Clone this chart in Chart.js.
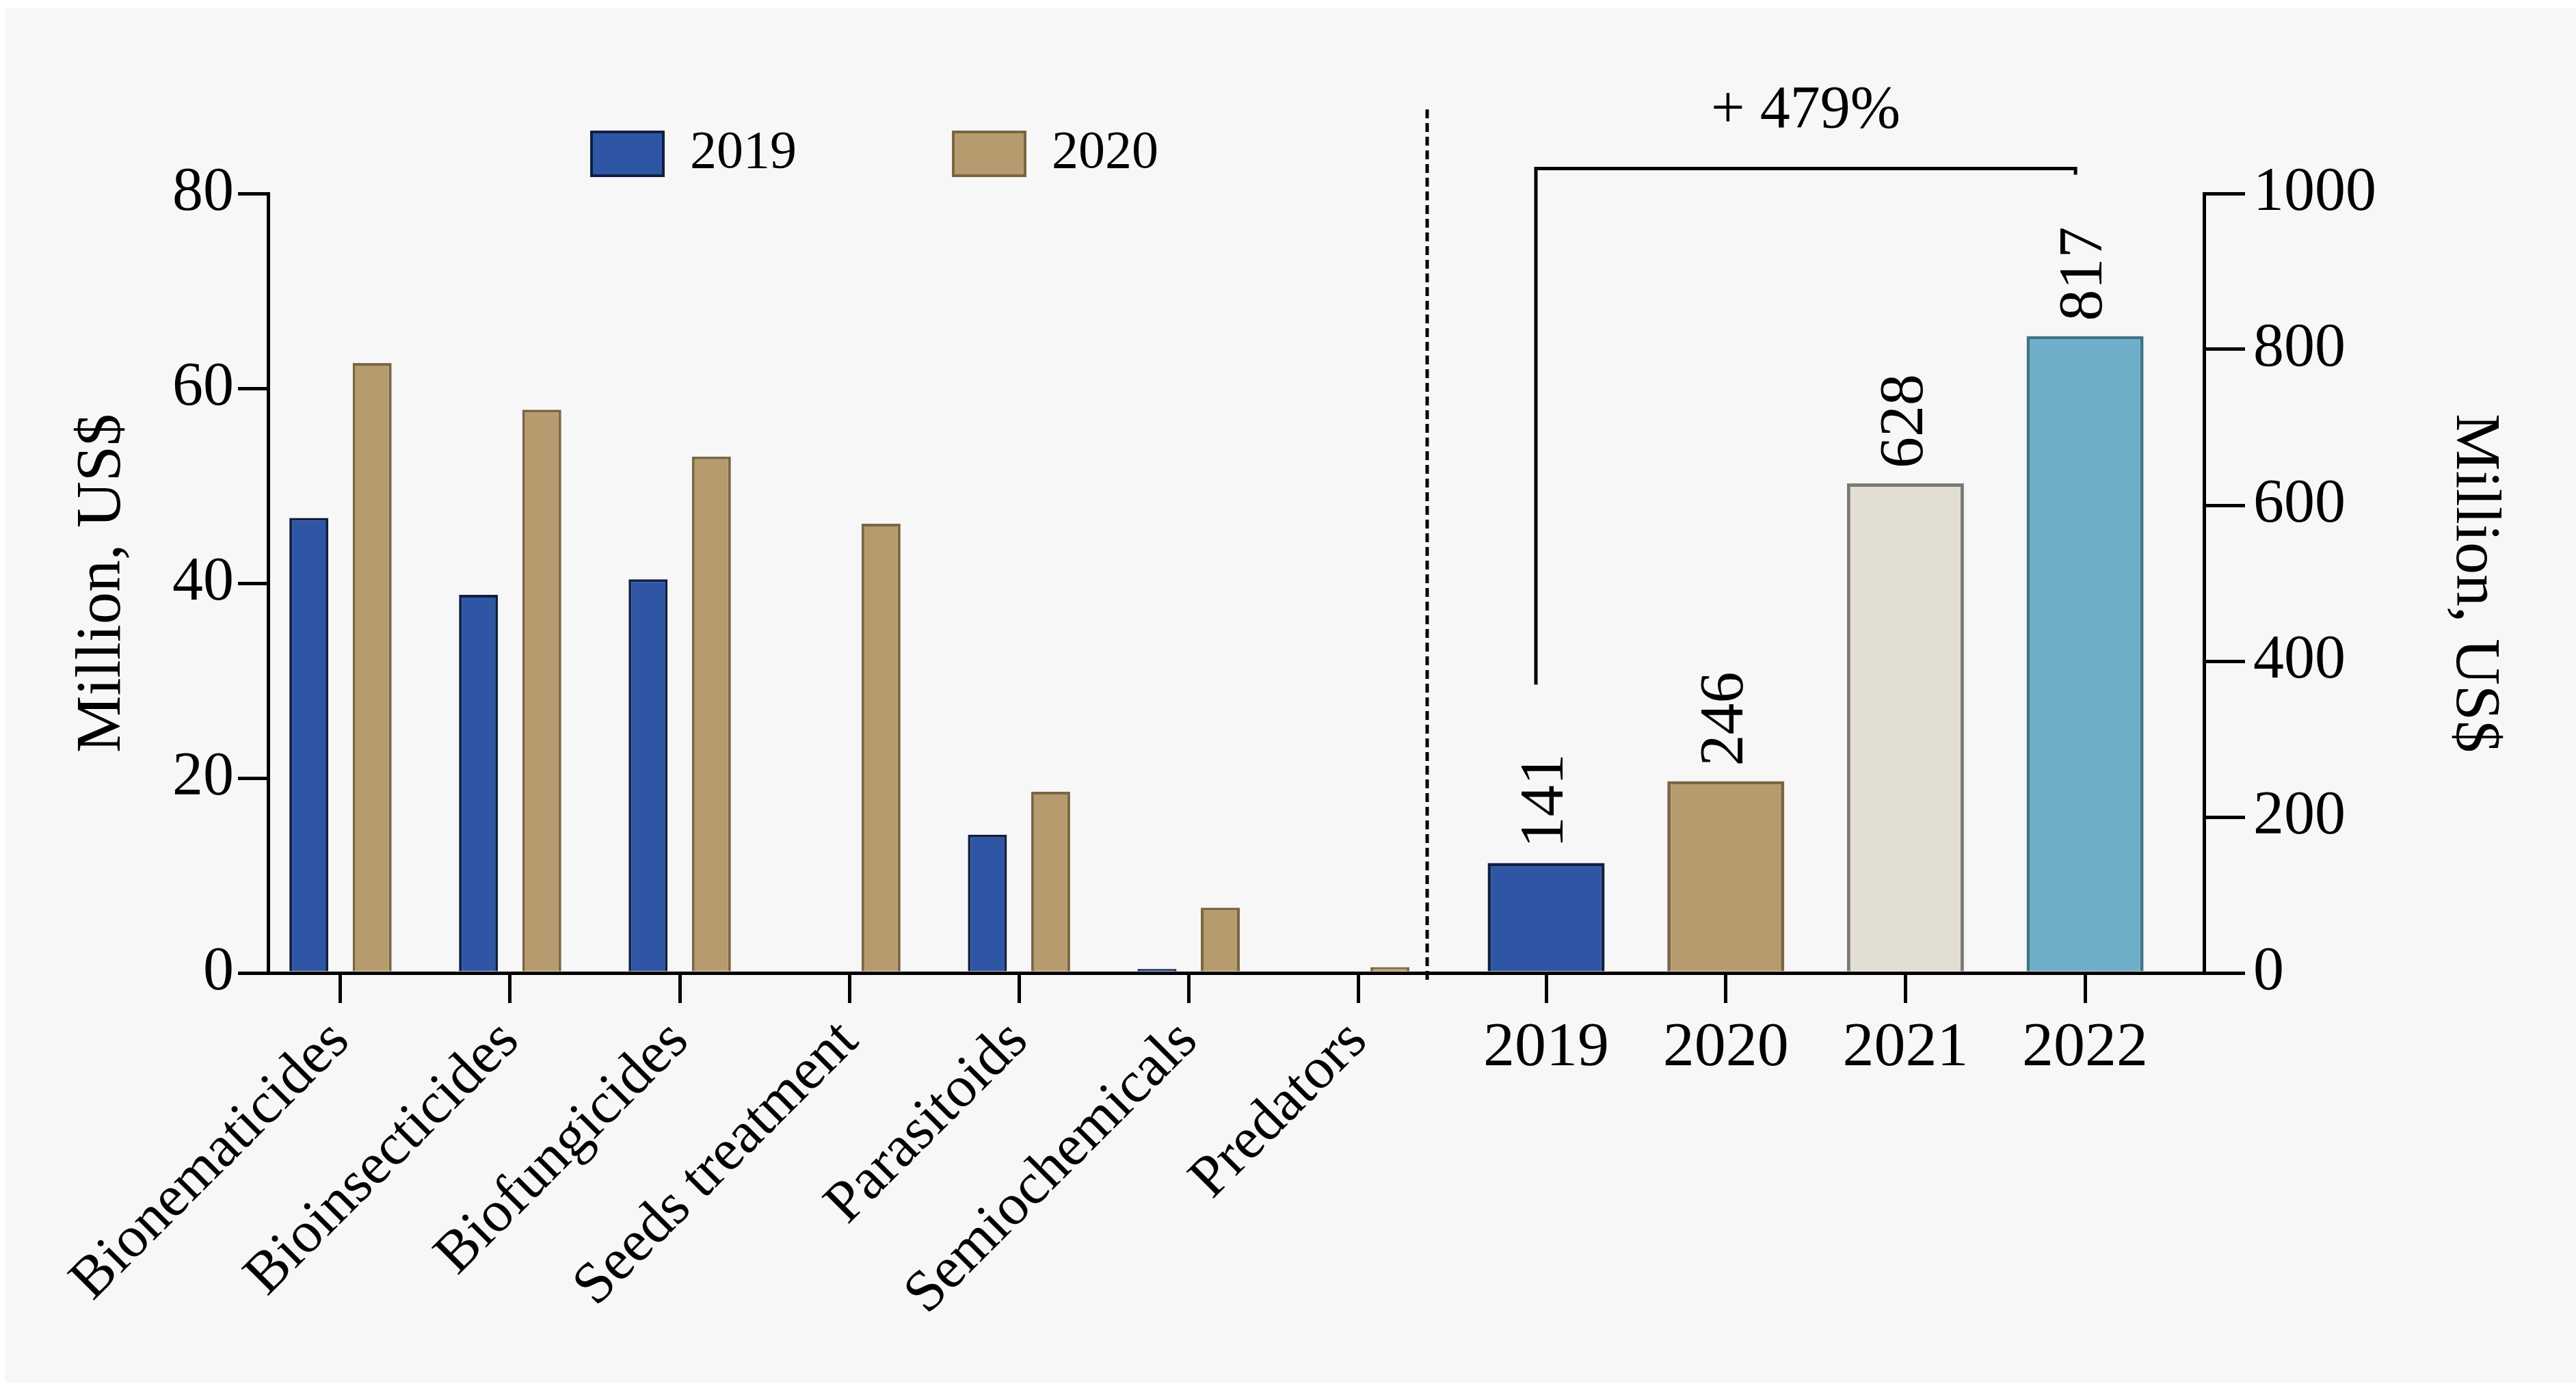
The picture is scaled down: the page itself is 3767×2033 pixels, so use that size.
<!DOCTYPE html>
<html>
<head>
<meta charset="utf-8">
<script src="https://cdn.jsdelivr.net/npm/chart.js@4.4.1/dist/chart.umd.min.js"></script>
<style>
  html, body { margin: 0; padding: 0; background: #ffffff; }
  #wrap { position: relative; width: 3767px; height: 2033px; overflow: hidden; }
  #panel { position: absolute; left: 7px; top: 12px; width: 3760px; height: 2010px; background: #f7f7f7; }
  canvas { position: absolute; left: 0; top: 0; }
</style>
</head>
<body>
<div id="wrap">
  <div id="panel"></div>
  <canvas id="leftChart" width="3767" height="2033"></canvas>
  <canvas id="rightChart" width="3767" height="2033"></canvas>
</div>
<script>
// ---------- data ----------
const categories = ['Bionematicides', 'Bioinsecticides', 'Biofungicides', 'Seeds treatment', 'Parasitoids', 'Semiochemicals', 'Predators'];
const seriesNames = ['2019', '2020'];
const values2019 = [46.7, 38.8, 40.4, 0, 14.2, 0.4, 0];
const values2020 = [62.6, 57.8, 53.0, 46.1, 18.6, 6.7, 0.6];
const leftTicks = [0, 20, 40, 60, 80];

const years = ['2019', '2020', '2021', '2022'];
const totals = [141, 246, 628, 817];
const rightTicks = [0, 200, 400, 600, 800, 1000];

const growthText = '+ 479%';
const bracketFromIndex = 0;
const bracketToIndex = 3;
const bracketLegBottom = 370;   // right-axis value where the left leg ends
const bracketTopValue = 1032;   // right-axis value of the horizontal line

const axisTitle = 'Million, US$';

// ---------- styles ----------
const FONT = "'Liberation Serif', 'Times New Roman', Times, serif";
const INK = '#000000';
const colors2019 = { fill: '#2e56a4', line: '#0f1f44' };
const colors2020 = { fill: '#b69b6e', line: '#7b6543' };
const rightFills = ['#2e56a4', '#b69b6e', '#e2ded4', '#6eaec9'];
const rightLines = ['#0f1f44', '#7b6543', '#7a7a74', '#3f7387'];

const PLOT_TOP = 283;
const PLOT_BOTTOM = 1423;
const W = 3767, H = 2033;
const SPLIT_X = 2088;

const axisGrid = (len) => ({ display: true, offset: false, drawOnChartArea: false, drawTicks: true, tickLength: len, lineWidth: 5, tickWidth: 5, color: INK, tickColor: INK });
const axisBorder = { display: true, color: INK, width: 5 };

// ---------- left chart ----------
new Chart(document.getElementById('leftChart'), {
  type: 'bar',
  data: {
    datasets: [
      {
        label: seriesNames[0],
        data: values2019.map((v, i) => ({ x: i, y: v })),
        backgroundColor: colors2019.fill,
        borderColor: colors2019.line,
        borderWidth: 4,
        xAxisID: 'x', yAxisID: 'y'
      },
      {
        label: seriesNames[1],
        data: values2020.map((v, i) => ({ x: i, y: v })),
        backgroundColor: colors2020.fill,
        borderColor: colors2020.line,
        borderWidth: 4,
        xAxisID: 'x', yAxisID: 'y'
      }
    ]
  },
  options: {
    responsive: false,
    animation: false,
    devicePixelRatio: 1,
    events: [],
    categoryPercentage: 0.746,
    barPercentage: 0.616,
    layout: { autoPadding: false, padding: { left: 0, right: 1208, top: -43, bottom: 0 } },
    scales: {
      x: {
        type: 'linear',
        position: 'bottom',
        offset: false,
        min: -0.427,
        max: 6.41,
        afterBuildTicks: s => { s.ticks = categories.map((_, i) => ({ value: i })); },
        afterFit: s => { s.height = H - PLOT_BOTTOM; },
        grid: axisGrid(44),
        border: axisBorder,
        ticks: {
          autoSkip: false, minRotation: 45, maxRotation: 45, padding: 6,
          color: INK, font: { family: FONT, size: 86 },
          callback: v => categories[v]
        }
      },
      xTop: {
        type: 'linear', position: 'top', display: true, offset: false,
        afterFit: s => { s.height = 9; },
        grid: { display: false }, border: { display: false }, ticks: { display: false }
      },
      y: {
        type: 'linear',
        position: 'left',
        min: 0, max: 80,
        afterBuildTicks: s => { s.ticks = leftTicks.map(v => ({ value: v })); },
        afterFit: s => { s.width = 392; },
        grid: axisGrid(44),
        border: axisBorder,
        ticks: { color: INK, padding: 6, font: { family: FONT, size: 90 }, callback: v => String(v) },
        title: { display: true, text: axisTitle, color: INK, font: { family: FONT, size: 94 }, padding: { top: 94, bottom: 0 } }
      },
      yR: {
        type: 'linear', position: 'right', display: true,
        afterFit: s => { s.width = 471; },
        grid: { display: false }, border: { display: false }, ticks: { display: false }
      }
    },
    plugins: {
      legend: {
        display: true,
        position: 'top',
        align: 'center',
        labels: {
          boxWidth: 105, boxHeight: 64, padding: 229,
          color: INK, font: { family: FONT, size: 78 }
        }
      },
      tooltip: { enabled: false }
    }
  }
});

// ---------- right chart plugins ----------
const rightDecor = {
  id: 'rightDecor',
  afterDatasetsDraw(chart) {
    const ctx = chart.ctx;
    const meta = chart.getDatasetMeta(0);
    ctx.save();
    ctx.fillStyle = INK;
    ctx.font = `92px ${FONT}`;
    ctx.textAlign = 'left';
    ctx.textBaseline = 'middle';
    meta.data.forEach((bar, i) => {
      ctx.save();
      ctx.translate(bar.x, bar.y - 22);
      ctx.rotate(-Math.PI / 2);
      ctx.fillText(String(totals[i]), 0, 0);
      ctx.restore();
    });
    ctx.restore();
  },
  afterDraw(chart) {
    const ctx = chart.ctx;
    const xs = chart.scales.x, ys = chart.scales.y;
    const area = chart.chartArea;
    ctx.save();
    // dashed divider
    ctx.strokeStyle = INK;
    ctx.lineWidth = 5;
    ctx.setLineDash([13, 7]);
    ctx.beginPath();
    ctx.moveTo(area.left - 1, area.top - 123);
    ctx.lineTo(area.left - 1, area.bottom + 13);
    ctx.stroke();
    ctx.setLineDash([]);
    // bracket
    const x0 = xs.getPixelForValue(bracketFromIndex) - 15;
    const x1 = xs.getPixelForValue(bracketToIndex) - 14;
    const yTop = ys.getPixelForValue(bracketTopValue);
    const yLeg = ys.getPixelForValue(bracketLegBottom);
    ctx.lineWidth = 5;
    ctx.lineJoin = 'miter';
    ctx.beginPath();
    ctx.moveTo(x0, yLeg);
    ctx.lineTo(x0, yTop);
    ctx.lineTo(x1, yTop);
    ctx.lineTo(x1, yTop + 9);
    ctx.stroke();
    // growth text
    ctx.fillStyle = INK;
    ctx.font = `88px ${FONT}`;
    ctx.textAlign = 'center';
    ctx.textBaseline = 'middle';
    ctx.fillText(growthText, (x0 + x1) / 2, yTop - 84);
    ctx.restore();
  }
};

// ---------- right chart ----------
new Chart(document.getElementById('rightChart'), {
  type: 'bar',
  data: {
    datasets: [{
      label: 'Total',
      data: totals.map((v, i) => ({ x: i, y: v })),
      backgroundColor: rightFills,
      borderColor: rightLines,
      borderWidth: 5,
      xAxisID: 'x', yAxisID: 'y'
    }]
  },
  options: {
    responsive: false,
    animation: false,
    devicePixelRatio: 1,
    events: [],
    categoryPercentage: 1,
    barPercentage: 0.651,
    layout: { autoPadding: false, padding: { left: SPLIT_X, right: 0, top: PLOT_TOP, bottom: 0 } },
    scales: {
      x: {
        type: 'linear',
        position: 'bottom',
        offset: false,
        min: -0.6586,
        max: 3.662,
        afterBuildTicks: s => { s.ticks = years.map((_, i) => ({ value: i })); },
        afterFit: s => { s.height = H - PLOT_BOTTOM; },
        grid: axisGrid(44),
        border: axisBorder,
        ticks: {
          autoSkip: false, minRotation: 0, maxRotation: 0, padding: 12,
          color: INK, font: { family: FONT, size: 92 },
          callback: v => years[v]
        }
      },
      y: {
        type: 'linear',
        position: 'right',
        min: 0, max: 1000,
        afterBuildTicks: s => { s.ticks = rightTicks.map(v => ({ value: v })); },
        afterFit: s => { s.width = W - 3223; },
        grid: axisGrid(60),
        border: axisBorder,
        ticks: { color: INK, padding: 12, font: { family: FONT, size: 90 }, callback: v => String(v) },
        title: { display: true, text: axisTitle, color: INK, font: { family: FONT, size: 94 }, padding: { top: 93, bottom: 0 } }
      }
    },
    plugins: {
      legend: { display: false },
      tooltip: { enabled: false }
    }
  },
  plugins: [rightDecor]
});
</script>
</body>
</html>
